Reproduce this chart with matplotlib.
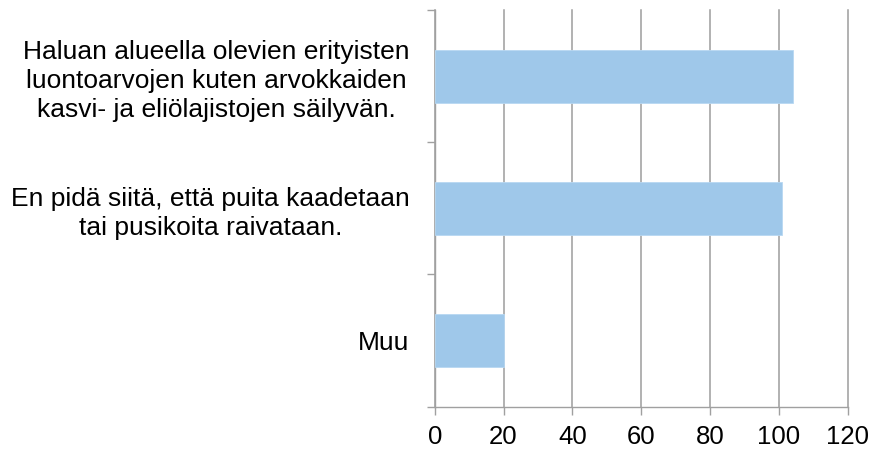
import matplotlib
matplotlib.use("Agg")
import matplotlib.pyplot as plt

categories = [
    "Haluan alueella olevien erityisten\nluontoarvojen kuten arvokkaiden\nkasvi- ja eliölajistojen säilyvän.",
    "En pidä siitä, että puita kaadetaan\ntai pusikoita raivataan.",
    "Muu",
]
values = [104, 101, 20]
x_ticks = [0, 20, 40, 60, 80, 100, 120]

plt.rcParams["font.family"] = ["Liberation Sans", "DejaVu Sans"]

fig = plt.figure(figsize=(8.74, 4.51), dpi=100)
ax = fig.add_axes([0.4974, 0.0982, 0.4725, 0.8796])

positions = list(range(len(categories)))
ax.barh(positions, values, height=0.4, color="#9fc8ea", edgecolor="#b8d8f2", linewidth=0.6, zorder=3)

ax.set_xlim(0, 120)
ax.set_ylim(len(categories) - 0.5, -0.5)
ax.set_xticks(x_ticks)
ax.set_xticklabels([str(t) for t in x_ticks], fontsize=18.5)

# category ticks sit between the bars; labels are centred on the bars
ax.set_yticks([p - 0.5 for p in positions] + [len(categories) - 0.5])
ax.set_yticklabels([])
ax.set_yticks(positions, minor=True)
ax.set_yticklabels(categories, minor=True, fontsize=19, ha="right",
                   multialignment="center", linespacing=1.27)
ax.tick_params(axis="y", which="minor", length=0, pad=18)
ax.tick_params(axis="y", which="major", length=6, width=1, color="#a0a0a0", direction="out")
ax.tick_params(axis="x", length=6, width=1, color="#a0a0a0", direction="out", pad=7)

ax.grid(axis="x", color="#9c9c9c", linewidth=1.1, zorder=0)
for gl in ax.get_xgridlines():
    gl.set_clip_on(False)
for side in ("top", "right"):
    ax.spines[side].set_visible(False)
for side in ("left", "bottom"):
    ax.spines[side].set_color("#a0a0a0")
    ax.spines[side].set_linewidth(1.0)

fig.savefig("out.png", dpi=100)
